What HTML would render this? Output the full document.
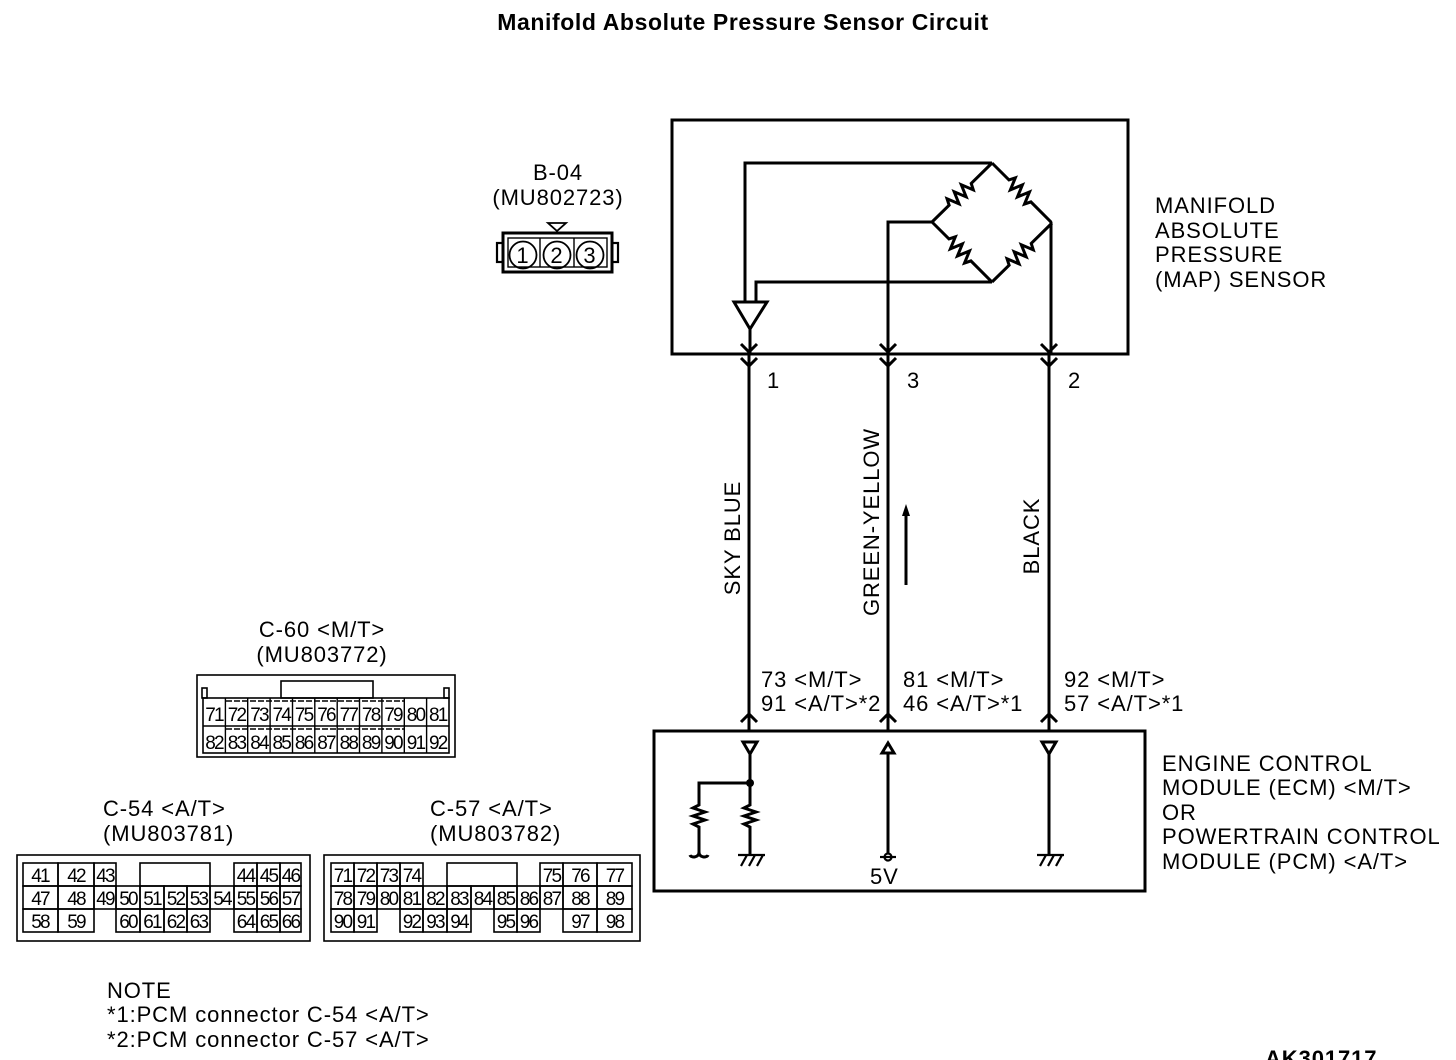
<!DOCTYPE html>
<html><head><meta charset="utf-8"><style>
html,body{margin:0;padding:0;background:#fff;}
svg{display:block;}
text{font-family:"Liberation Sans",sans-serif;fill:#000;}
.m text{font-size:22px;letter-spacing:0.9px;}
.c text{font-size:19px;text-anchor:middle;letter-spacing:-1.8px;}
.c rect{fill:none;stroke:#000;stroke-width:1.6;}
</style></head><body>
<svg width="1456" height="1060" viewBox="0 0 1456 1060" xmlns="http://www.w3.org/2000/svg">
<text x="743" y="30" font-size="23" font-weight="bold" text-anchor="middle" letter-spacing="0.6">Manifold Absolute Pressure Sensor Circuit</text>

<g fill="none" stroke="#000" stroke-width="3">
<rect x="672" y="120" width="456" height="234"/>
<polyline points="745,302 745,163 992,163"/>
<polyline points="756,302 756,282 992,282"/>
<polygon points="734,302 767,302 750,329" />
<line x1="750" y1="329" x2="750" y2="354"/>
<polyline points="888,354 888,222 932,222"/>
<polyline points="1051,222 1051,354"/>
<g transform="translate(932,222) rotate(-44.5)"><path d="M0 0H24l3 -6l5 12l5 -12l5 12l5 -12l5 12l3 -6H84"/></g>
<g transform="translate(992,163) rotate(45)"><path d="M0 0H24l3 -6l5 12l5 -12l5 12l5 -12l5 12l3 -6H84"/></g>
<g transform="translate(932,222) rotate(45)"><path d="M0 0H24l3 -6l5 12l5 -12l5 12l5 -12l5 12l3 -6H84"/></g>
<g transform="translate(992,282) rotate(-44.5)"><path d="M0 0H24l3 -6l5 12l5 -12l5 12l5 -12l5 12l3 -6H84"/></g>
<line x1="749" y1="354" x2="749" y2="731"/>
<line x1="888" y1="354" x2="888" y2="731"/>
<line x1="1049" y1="354" x2="1049" y2="731"/>
<polyline points="741,344 749,352 757,344"/><polyline points="741,358 749,366 757,358"/>
<polyline points="880,344 888,352 896,344"/><polyline points="880,358 888,366 896,358"/>
<polyline points="1041,344 1049,352 1057,344"/><polyline points="1041,358 1049,366 1057,358"/>
<polyline points="741,722 749,714 757,722"/>
<polyline points="880,722 888,714 896,722"/>
<polyline points="1041,722 1049,714 1057,722"/>
<rect x="654" y="731" width="491" height="160"/>
<polygon points="743,742 757,742 750,754"/>
<path d="M750 754V805l-6 3l12 4l-12 4l12 4l-12 4l6 3V855"/>
<path d="M750 783H699V805l-6 3l12 4l-12 4l12 4l-12 4l6 3V852c0 6 -8 6 -9 3M699 852c0 6 8 6 9 3"/>
<polygon points="888,743 882,753 894,753"/>
<line x1="888" y1="753" x2="888" y2="853"/>
<polygon points="1042,742 1056,742 1049,754"/>
<line x1="1049" y1="754" x2="1049" y2="855"/>
<line x1="906" y1="585" x2="906" y2="512"/>
<rect x="503" y="233" width="109" height="39"/>
</g>
<polygon points="906,504 902,516 910,516" fill="#000"/>
<circle cx="750" cy="783" r="4" fill="#000"/>
<g fill="none" stroke="#000" stroke-width="2.2">
<path d="M738 855H765M741 866l6 -11M749 866l6 -11M757 866l6 -11"/>
<path d="M1037 855H1064M1040 866l6 -11M1048 866l6 -11M1056 866l6 -11"/>
<path d="M880 857H896"/><circle cx="888" cy="857" r="3.5"/>
<rect x="497" y="243" width="6" height="19"/><rect x="612" y="243" width="6" height="19"/>
<rect x="508" y="238" width="99" height="29" stroke-width="1.4"/>
<line x1="540" y1="238" x2="540" y2="267" stroke-width="1.4"/><line x1="574" y1="238" x2="574" y2="267" stroke-width="1.4"/>
<circle cx="523" cy="255" r="13.5" stroke-width="1.8"/><circle cx="557" cy="255" r="13.5" stroke-width="1.8"/><circle cx="590" cy="255" r="13.5" stroke-width="1.8"/>
<polygon points="548,223 566,223 557,231" stroke-width="1.8"/>
</g>
<g class="m">
<text x="523" y="263" text-anchor="middle" letter-spacing="0">1</text>
<text x="557" y="263" text-anchor="middle" letter-spacing="0">2</text>
<text x="590" y="263" text-anchor="middle" letter-spacing="0">3</text>
<text x="558" y="180" text-anchor="middle">B-04</text>
<text x="558" y="205" text-anchor="middle">(MU802723)</text>
<text x="1155" y="213">MANIFOLD</text>
<text x="1155" y="238">ABSOLUTE</text>
<text x="1155" y="262">PRESSURE</text>
<text x="1155" y="287">(MAP) SENSOR</text>
<text x="767" y="388">1</text><text x="907" y="388">3</text><text x="1068" y="388">2</text>
<text transform="translate(740,538) rotate(-90)" text-anchor="middle">SKY BLUE</text>
<text transform="translate(879,522) rotate(-90)" text-anchor="middle">GREEN-YELLOW</text>
<text transform="translate(1039,536) rotate(-90)" text-anchor="middle">BLACK</text>
<text x="761" y="687">73 &lt;M/T&gt;</text><text x="761" y="711">91 &lt;A/T&gt;*2</text>
<text x="903" y="687">81 &lt;M/T&gt;</text><text x="903" y="711">46 &lt;A/T&gt;*1</text>
<text x="1064" y="687">92 &lt;M/T&gt;</text><text x="1064" y="711">57 &lt;A/T&gt;*1</text>
<text x="870" y="884">5V</text>
<text x="1162" y="771">ENGINE CONTROL</text>
<text x="1162" y="795">MODULE (ECM) &lt;M/T&gt;</text>
<text x="1162" y="820">OR</text>
<text x="1162" y="844">POWERTRAIN CONTROL</text>
<text x="1162" y="869">MODULE (PCM) &lt;A/T&gt;</text>
<text x="322" y="637" text-anchor="middle">C-60 &lt;M/T&gt;</text>
<text x="322" y="662" text-anchor="middle">(MU803772)</text>
<text x="103" y="816">C-54 &lt;A/T&gt;</text>
<text x="103" y="841">(MU803781)</text>
<text x="430" y="816">C-57 &lt;A/T&gt;</text>
<text x="430" y="841">(MU803782)</text>
<text x="107" y="998">NOTE</text>
<text x="107" y="1022">*1:PCM connector C-54 &lt;A/T&gt;</text>
<text x="107" y="1047">*2:PCM connector C-57 &lt;A/T&gt;</text>
<text x="1265" y="1066" font-size="18" font-weight="bold" letter-spacing="0">AK301717</text>
</g>

<g class="c">
<rect x="197" y="675" width="258" height="82" stroke-width="3"/>
<rect x="202" y="688" width="5" height="10"/><rect x="444" y="688" width="5" height="10"/>
<rect x="281" y="681" width="92" height="17"/>
<rect x="203" y="698" width="246" height="55"/>
<line x1="203" y1="726" x2="449" y2="726" stroke="#000" stroke-width="1.6"/>
<g stroke="#000" stroke-width="1.4">
<line x1="225.4" y1="698" x2="225.4" y2="753"/><line x1="247.7" y1="698" x2="247.7" y2="753"/><line x1="270.1" y1="698" x2="270.1" y2="753"/><line x1="292.5" y1="698" x2="292.5" y2="753"/><line x1="314.8" y1="698" x2="314.8" y2="753"/><line x1="337.2" y1="698" x2="337.2" y2="753"/><line x1="359.5" y1="698" x2="359.5" y2="753"/><line x1="381.9" y1="698" x2="381.9" y2="753"/><line x1="404.3" y1="698" x2="404.3" y2="753"/><line x1="426.6" y1="698" x2="426.6" y2="753"/>
<line x1="226" y1="701" x2="404" y2="701" stroke-dasharray="6 2"/><line x1="226" y1="729" x2="404" y2="729" stroke-dasharray="6 2"/>
</g>
<text x="214" y="721">71</text><text x="236.5" y="721">72</text><text x="259" y="721">73</text><text x="281.3" y="721">74</text><text x="303.6" y="721">75</text><text x="326" y="721">76</text><text x="348.4" y="721">77</text><text x="370.7" y="721">78</text><text x="393" y="721">79</text><text x="415.5" y="721">80</text><text x="437.8" y="721">81</text>
<text x="214" y="749">82</text><text x="236.5" y="749">83</text><text x="259" y="749">84</text><text x="281.3" y="749">85</text><text x="303.6" y="749">86</text><text x="326" y="749">87</text><text x="348.4" y="749">88</text><text x="370.7" y="749">89</text><text x="393" y="749">90</text><text x="415.5" y="749">91</text><text x="437.8" y="749">92</text>
</g>

<g class="c">
<rect x="17" y="855" width="293" height="86" stroke-width="3"/>
<rect x="23" y="863" width="35" height="23"/><rect x="58" y="863" width="36" height="23"/><rect x="94" y="863" width="22" height="23"/>
<rect x="140" y="863" width="70" height="23"/>
<rect x="234" y="863" width="23" height="23"/><rect x="257" y="863" width="23" height="23"/><rect x="280" y="863" width="21" height="23"/>
<rect x="23" y="886" width="35" height="23"/><rect x="58" y="886" width="36" height="23"/><rect x="94" y="886" width="22" height="23"/><rect x="116" y="886" width="24" height="23"/><rect x="140" y="886" width="24" height="23"/><rect x="164" y="886" width="23" height="23"/><rect x="187" y="886" width="23" height="23"/><rect x="210" y="886" width="24" height="23"/><rect x="234" y="886" width="23" height="23"/><rect x="257" y="886" width="23" height="23"/><rect x="280" y="886" width="21" height="23"/>
<rect x="23" y="909" width="35" height="23"/><rect x="58" y="909" width="36" height="23"/><rect x="116" y="909" width="24" height="23"/><rect x="140" y="909" width="24" height="23"/><rect x="164" y="909" width="23" height="23"/><rect x="187" y="909" width="23" height="23"/><rect x="234" y="909" width="23" height="23"/><rect x="257" y="909" width="23" height="23"/><rect x="280" y="909" width="21" height="23"/>
<text x="40" y="882">41</text><text x="76" y="882">42</text><text x="105" y="882">43</text><text x="245.5" y="882">44</text><text x="268.5" y="882">45</text><text x="290.5" y="882">46</text>
<text x="40" y="905">47</text><text x="76" y="905">48</text><text x="105" y="905">49</text><text x="128" y="905">50</text><text x="152" y="905">51</text><text x="175.5" y="905">52</text><text x="198.5" y="905">53</text><text x="222" y="905">54</text><text x="245.5" y="905">55</text><text x="268.5" y="905">56</text><text x="290.5" y="905">57</text>
<text x="40" y="928">58</text><text x="76" y="928">59</text><text x="128" y="928">60</text><text x="152" y="928">61</text><text x="175.5" y="928">62</text><text x="198.5" y="928">63</text><text x="245.5" y="928">64</text><text x="268.5" y="928">65</text><text x="290.5" y="928">66</text>
</g>

<g class="c">
<rect x="324" y="855" width="316" height="86" stroke-width="3"/>
<rect x="331" y="863" width="23" height="23"/><rect x="354" y="863" width="23" height="23"/><rect x="377" y="863" width="23" height="23"/><rect x="400" y="863" width="23" height="23"/>
<rect x="447" y="863" width="70" height="23"/>
<rect x="540" y="863" width="23" height="23"/><rect x="563" y="863" width="34" height="23"/><rect x="597" y="863" width="35" height="23"/>
<rect x="331" y="886" width="23" height="23"/><rect x="354" y="886" width="23" height="23"/><rect x="377" y="886" width="23" height="23"/><rect x="400" y="886" width="23" height="23"/><rect x="423" y="886" width="24" height="23"/><rect x="447" y="886" width="24" height="23"/><rect x="471" y="886" width="23" height="23"/><rect x="494" y="886" width="23" height="23"/><rect x="517" y="886" width="23" height="23"/><rect x="540" y="886" width="23" height="23"/><rect x="563" y="886" width="34" height="23"/><rect x="597" y="886" width="35" height="23"/>
<rect x="331" y="909" width="23" height="23"/><rect x="354" y="909" width="23" height="23"/><rect x="400" y="909" width="23" height="23"/><rect x="423" y="909" width="24" height="23"/><rect x="447" y="909" width="24" height="23"/><rect x="494" y="909" width="23" height="23"/><rect x="517" y="909" width="23" height="23"/><rect x="563" y="909" width="34" height="23"/><rect x="597" y="909" width="35" height="23"/>
<text x="342.5" y="882">71</text><text x="365.5" y="882">72</text><text x="388.5" y="882">73</text><text x="411.5" y="882">74</text><text x="551.5" y="882">75</text><text x="580" y="882">76</text><text x="614.5" y="882">77</text>
<text x="342.5" y="905">78</text><text x="365.5" y="905">79</text><text x="388.5" y="905">80</text><text x="411.5" y="905">81</text><text x="435" y="905">82</text><text x="459" y="905">83</text><text x="482.5" y="905">84</text><text x="505.5" y="905">85</text><text x="528.5" y="905">86</text><text x="551.5" y="905">87</text><text x="580" y="905">88</text><text x="614.5" y="905">89</text>
<text x="342.5" y="928">90</text><text x="365.5" y="928">91</text><text x="411.5" y="928">92</text><text x="435" y="928">93</text><text x="459" y="928">94</text><text x="505.5" y="928">95</text><text x="528.5" y="928">96</text><text x="580" y="928">97</text><text x="614.5" y="928">98</text>
</g>
</svg>
</body></html>
